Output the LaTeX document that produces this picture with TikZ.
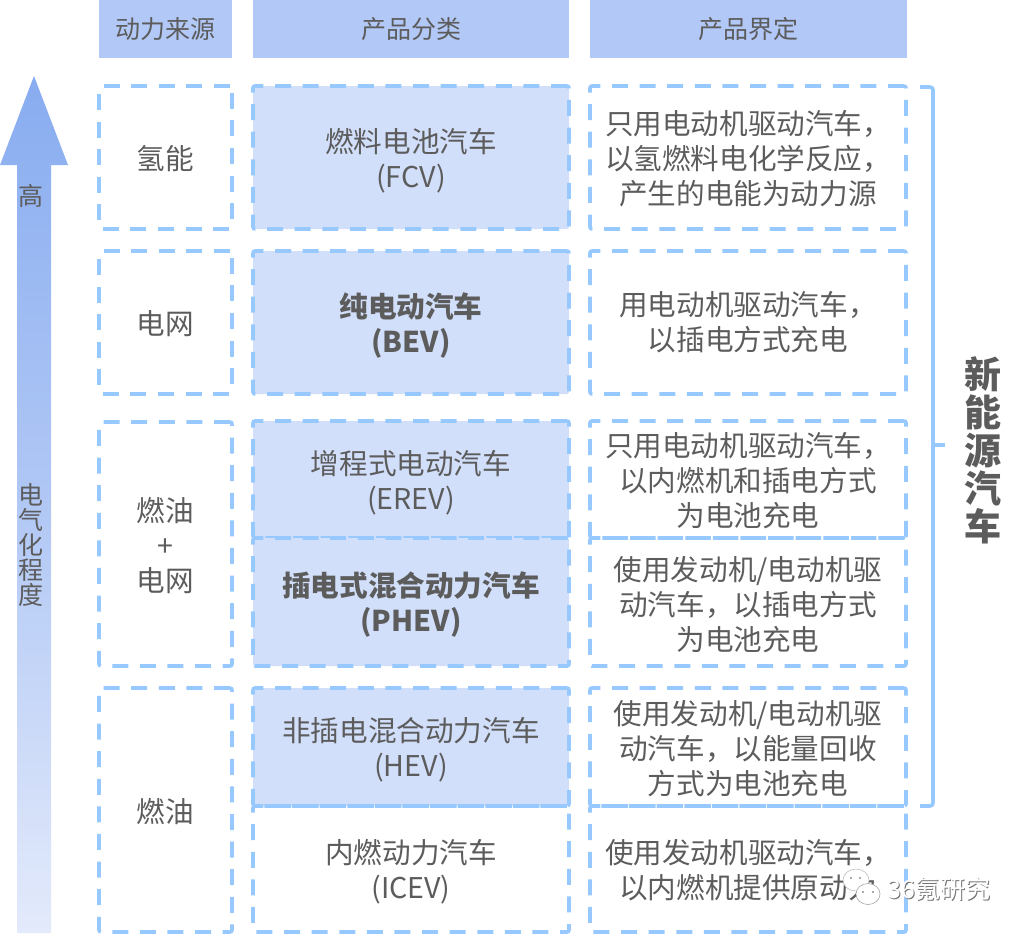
\documentclass[tikz,border=0pt]{standalone}
\usepackage{fontspec}
\setmainfont{Noto Sans CJK SC}
\definecolor{txt}{HTML}{5C5C5C}
\definecolor{dash}{HTML}{97C9FF}
\definecolor{fillb}{HTML}{D2DFFA}
\definecolor{headb}{HTML}{B2C8F6}
\definecolor{arrtop}{HTML}{88ACF0}
\definecolor{arrbot}{HTML}{E3EAFB}
\tikzset{
  x=1pt,y=-1pt,
  base/.style={inner sep=0pt,outer sep=0pt,align=center,text=txt,font=\fontsize{28.6}{35}\selectfont},
  head/.style={base,fill=headb,minimum height=58,font=\fontsize{25}{30}\selectfont},
  cell/.style={base,draw=dash,line width=3.6pt,dash pattern=on 16pt off 11.6pt,rounded corners=2pt},
  cella/.style={cell,minimum width=133},
  cellb/.style={cell,minimum width=316,fill=fillb},
  cellw/.style={cell,minimum width=316},
  hh/.style={minimum height=#1},
  ruleline/.style={draw=dash,line width=3.6pt,rounded corners=3pt},
}
\newcommand{\dnb}{\rule{0pt}{30pt}}
\newcommand{\dnc}{\rule{0pt}{26.5pt}}
\begin{document}
\begin{tikzpicture}
\useasboundingbox (0,0) rectangle (1024,935);
% headers
\node[head,minimum width=133] (h1) at (165.5,29) {动力来源};
\node[head,minimum width=316] (h2) at (411,29) {产品分类};
\node[head,minimum width=317] (h3) at (748.5,29) {产品界定};
% arrow
\shade[top color=arrtop,bottom color=arrbot,middle color=arrtop!55!arrbot]
  (34,76) -- (68,165) -- (51,165) -- (51,933) -- (17,933) -- (17,165) -- (0,165) -- cycle;
\node[base,font=\fontsize{25}{25}\selectfont] (gao) at (31,196) {高};
\node[base,font=\fontsize{25}{25}\selectfont] (dq) at (31,545) {电\\气\\化\\程\\度};
% source column
\node[cella,hh=143] (a1) at (165.5,157.5) {\dnc 氢能};
\node[cella,hh=143] (a2) at (165.5,322.5) {\dnc 电网};
\node[cella,hh=244] (a3) at (165.5,544) {\dnc 燃油\\+\\电网};
\node[cella,hh=244] (a4) at (165.5,810) {\dnc 燃油};
% product column
\node[cellb,hh=143] (b1) at (411,157.5) {\dnb 燃料电池汽车\\(FCV)};
\node[cellb,hh=143] (b2) at (411,322.5) {\dnb\bfseries 纯电动汽车\\\bfseries (BEV)};
\node[cellb,hh=117] (b3) at (411,479.5) {\dnb 增程式电动汽车\\(EREV)};
\node[cellb,hh=128] (b4) at (411,602) {\dnb\bfseries 插电式混合动力汽车\\\bfseries (PHEV)};
\node[cellb,hh=118] (b5) at (411,747) {\dnb 非插电混合动力汽车\\(HEV)};
\node[cellw,hh=126] (b6) at (411,869) {\dnb 内燃动力汽车\\(ICEV)};
% definition column
\node[cellw,hh=143] (c1) at (748,157.5) {\dnc 只用电动机驱动汽车，\\以氢燃料电化学反应，\\产生的电能为动力源};
\node[cellw,hh=143] (c2) at (748,322.5) {用电动机驱动汽车，\\以插电方式充电};
\node[cellw,hh=117] (c3) at (748,479.5) {\dnc 只用电动机驱动汽车，\\以内燃机和插电方式\\为电池充电};
\node[cellw,hh=128] (c4) at (748,602) {\dnb 使用发动机/电动机驱\\动汽车，以插电方式\\为电池充电};
\node[cellw,hh=118] (c5) at (748,747) {\dnc 使用发动机/电动机驱\\动汽车，以能量回收\\方式为电池充电};
\node[cellw,hh=126] (c6) at (748,869) {\dnc 使用发动机驱动汽车，\\以内燃机提供原动力};
% bracket
\coordinate (brt) at (920,87);
\coordinate (brb) at (920,806);
\coordinate (brm) at (933,445);
\coordinate (brn) at (945,445);
\path[ruleline] (brt) -- (933,87) -- (933,806) -- (brb);
\path[draw=dash,line width=3.6pt] (brm) -- (brn);
\node[base,font=\fontsize{37}{38}\selectfont\bfseries] (xny) at (983,450) {新\\能\\源\\汽\\车};
% watermark
\fill[white,draw=black!25,line width=.6pt] (856,880) ellipse (13 and 11);
\fill[white,draw=black!35,line width=.6pt] (868,894) ellipse (12 and 10.5);
\fill[black!45] (851,878) circle (1.2) (860,878) circle (1.2) (863,892) circle (1.1) (873,892) circle (1.1);
\node[base,font=\fontsize{25}{25}\selectfont,text=white] (wm) at (939,889) {\rlap{\kern1pt\raisebox{-1pt}{\textcolor{black!55}{36氪研究}}}36氪研究};
\end{tikzpicture}
\end{document}
